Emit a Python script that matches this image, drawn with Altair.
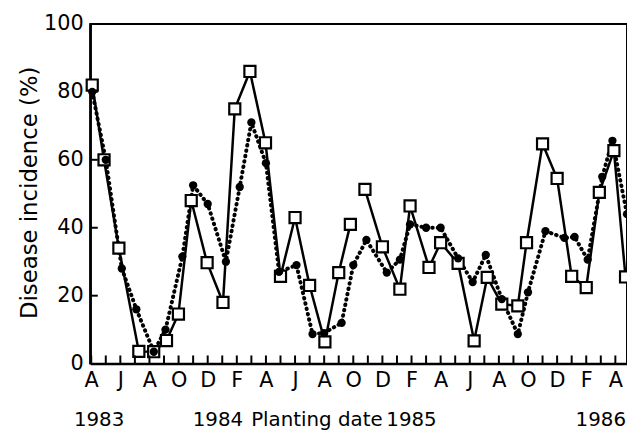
import altair as alt
import pandas as pd

# Solid line, open squares (months since April 1983, disease incidence %)
sq_month = [0.07, 0.88, 1.9, 3.27, 4.29, 5.17, 5.99, 6.87, 7.96, 9.05,
            9.86, 10.9, 11.97, 13.0, 14.0, 15.0, 16.05, 17.0, 17.8,
            18.8, 20.0, 21.2, 21.9, 23.2, 24.0, 25.2, 26.3, 27.2, 28.2,
            29.3, 29.9, 31.0, 32.0, 33.0, 34.0, 34.9, 35.9, 36.7]
sq_val = [82, 60, 34, 3.6, 3.5, 6.8, 14.6, 48, 29.7, 18,
          75, 86, 65, 25.7, 43, 23, 6.4, 26.8, 41,
          51.3, 34.4, 21.9, 46.4, 28.3, 35.6, 29.5, 6.7, 25.4, 17.5,
          17, 35.6, 64.7, 54.5, 25.7, 22.4, 50.4, 62.7, 25.5]

# Dotted line, filled circles
ci_month = [0.07, 1.0, 2.1, 3.1, 4.3, 5.1, 6.26, 7.0, 8.0, 9.25,
            10.2, 11.0, 12.0, 12.9, 14.1, 15.2, 16.0, 17.2, 18.0, 18.9,
            20.3, 21.2, 21.9, 23.0, 24.0, 25.2, 26.2, 27.1, 28.2, 29.3,
            30.0, 31.2, 32.5, 33.2, 34.1, 35.1, 35.8, 36.8]
ci_val = [80, 60, 28, 16, 3.5, 10, 31.5, 52.5, 47, 30,
          52, 71, 59, 27, 29, 8.7, 9, 12, 29, 36.4,
          26.8, 30.6, 41, 40, 40, 31, 24, 32, 19, 8.7,
          21, 39, 37, 37.3, 30.6, 55, 65.6, 44]

month_letters = ["A", "J", "A", "O", "D", "F"]
year_labels = ["1983", "1984", "Planting date", "1985", "1986"]
year_label_pos = [0.54, 8.7, 15.5, 22.0, 35.0]
y_tick_values = [0, 20, 40, 60, 80, 100]

FONT = "DejaVu Sans"

sq = pd.DataFrame({"m": sq_month, "v": sq_val})
sq["seg"] = [0 if m < 18.3 else 1 for m in sq_month]
ci = pd.DataFrame({"m": ci_month, "v": ci_val})
mticks = pd.DataFrame({"m": [float(i) for i in range(0, 37)], "v": 0.0, "v2": 2.4})
yticks = pd.DataFrame({"m": [-0.07] * 4, "m2": [0.45] * 4,
                       "v": [float(v) for v in y_tick_values[1:-1]]})
years = pd.DataFrame({"m": year_label_pos, "t": year_labels})

xs = alt.Scale(domain=[-0.07, 36.8], nice=False, zero=False)
ys = alt.Scale(domain=[0, 100], nice=False)

label_js = "[" + ",".join("'%s'" % c for c in month_letters) + "]"
xaxis = alt.Axis(values=list(range(0, 37, 2)),
                 labelExpr=label_js + "[(datum.value/2)%6]",
                 title=None, grid=False, ticks=False,
                 domainColor="black", domainWidth=2.5,
                 labelFont=FONT, labelFontSize=21, labelColor="black",
                 labelPadding=6)
yaxis = alt.Axis(values=y_tick_values, title="Disease incidence (%)",
                 grid=False, ticks=False,
                 domainColor="black", domainWidth=2.5,
                 labelFont=FONT, labelFontSize=21, labelColor="black",
                 labelPadding=7,
                 titleFont=FONT, titleFontSize=23, titleFontWeight="normal",
                 titleColor="black", titleX=-61, titleY=170,
                 titleAngle=270, titleAlign="center", titleBaseline="middle")

X = alt.X("m:Q", scale=xs, axis=xaxis)
Y = alt.Y("v:Q", scale=ys, axis=yaxis)

tick_layer = alt.Chart(mticks).mark_rule(color="black", strokeWidth=2,
                                         clip=False).encode(
    x=X, y=Y, y2="v2:Q")
ytick_layer = alt.Chart(yticks).mark_rule(color="black", strokeWidth=2,
                                          clip=False).encode(
    x=X, x2="m2:Q", y=Y)

dot_line = alt.Chart(ci).mark_line(color="black", strokeWidth=4,
                                   strokeDash=[0.5, 5], strokeCap="round",
                                   clip=False).encode(x=X, y=Y)
dot_pts = alt.Chart(ci).mark_circle(color="black", size=70, opacity=1,
                                    clip=False).encode(x=X, y=Y)
solid_line = alt.Chart(sq).mark_line(color="black", strokeWidth=2.5,
                                     clip=False).encode(
    x=X, y=Y, detail="seg:N")
sq_pts = alt.Chart(sq).mark_square(fill="white", stroke="black",
                                   strokeWidth=2.2, size=125, opacity=1,
                                   fillOpacity=1, clip=False).encode(x=X, y=Y)

year_text = alt.Chart(years).mark_text(font=FONT, fontSize=20,
                                       baseline="middle", align="center",
                                       color="black").encode(
    x=X, y=alt.value(400), text="t:N")

chart = alt.layer(dot_line, solid_line, sq_pts, dot_pts, year_text,
                  tick_layer, ytick_layer).properties(
    width=542, height=343,
    autosize=alt.AutoSizeParams(type="none"),
    padding={"left": 83, "top": 14, "right": 0, "bottom": 70},
    background="white",
).configure_view(stroke="black", strokeWidth=2)

chart.save("out.html", embed_options={"renderer": "svg", "actions": False})
